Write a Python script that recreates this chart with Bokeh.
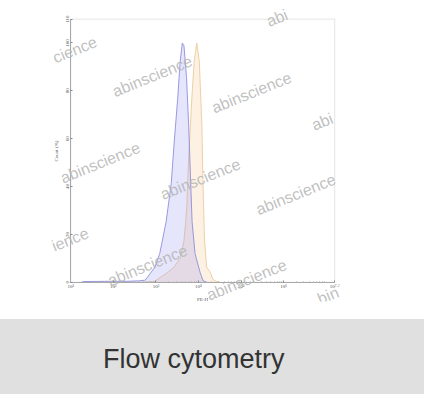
from bokeh.plotting import figure
from bokeh.models import (FixedTicker, CustomJSTickFormatter, Label, Range1d, Div,
                          BoxAnnotation)
from bokeh.layouts import column
from bokeh.embed import file_html
from bokeh.resources import INLINE

# ---- data (log10 of PE-H intensity, % of max count) ----
blue_log10 = [1.25, 1.3, 1.8, 2.3, 2.6, 2.75, 2.98, 3.09, 3.24, 3.36, 3.43, 3.51, 3.57, 3.62,
              3.66, 3.72, 3.77, 3.81, 3.85, 3.92, 4.04, 4.11, 4.2]
blue_pct = [0.0, 0.3, 0.4, 0.4, 0.6, 0.9, 6.4, 12.0, 25.3, 41.3, 58.6, 76.3, 92.3, 100.0,
            98.8, 85.5, 65.4, 45.4, 25.3, 12.0, 4.0, 0.6, 0.0]
orange_log10 = [2.6, 2.86, 2.98, 3.13, 3.27, 3.43, 3.58, 3.66, 3.70, 3.73, 3.77, 3.85, 3.90,
                3.96, 4.02, 4.08, 4.11, 4.14, 4.19, 4.27, 4.34, 4.41, 4.5]
orange_pct = [0.0, 0.2, 0.4, 2.4, 4.0, 6.4, 10.4, 17.3, 25.3, 33.3, 52.2, 78.7, 92.3,
              100.0, 92.3, 65.4, 38.5, 18.5, 6.4, 4.4, 1.2, 0.4, 0.0]
x_tick_exponents = [1, 2, 3, 4, 5, 6, 7.2]
y_ticks = [0, 20, 40, 60, 80, 100, 110]
x_label = "PE-H"
y_label = "Count (%)"
caption = "Flow cytometry"
watermark = "abinscience"

X_MIN_EXP, X_MAX_EXP = 1, 7.2
Y_MAX = 110

# reference layout (px): plot box 73..347 x 19..293, picture area 53..352 x 8..313
PX_PER_DEC = 274.0 / (X_MAX_EXP - X_MIN_EXP)
PX_PER_PCT = 274.0 / Y_MAX


def fx(px):
    return 10 ** (X_MIN_EXP + (px - 73) / PX_PER_DEC)


def fy(py):
    return (293 - py) / PX_PER_PCT


W, H = 424, 394          # page area inside the 8px margin
TOP_H = 319              # chart card height, caption band below

p = figure(width=W, height=TOP_H, x_axis_type="log",
           x_range=Range1d(fx(53), fx(352)), y_range=Range1d(fy(313), fy(8)),
           output_backend="svg", toolbar_location=None,
           min_border_left=51, min_border_right=85, min_border_top=8, min_border_bottom=18)
p.grid.visible = False
p.background_fill_color = "white"
p.border_fill_color = "white"
p.outline_line_color = None

bx = [10 ** v for v in blue_log10]
ox = [10 ** v for v in orange_log10]
p.varea(x=ox, y1=[0] * len(ox), y2=orange_pct, fill_color="#f5c78a", fill_alpha=0.25)
p.line(ox, orange_pct, line_color="#eccb9c", line_width=1, line_alpha=0.9)
p.varea(x=bx, y1=[0] * len(bx), y2=blue_pct, fill_color="#9999ee", fill_alpha=0.25)
p.line(bx, blue_pct, line_color="#8a8adc", line_width=1, line_alpha=0.85)

# plot box (top/right edges; left/bottom are the axes)
p.add_layout(BoxAnnotation(left=10 ** X_MIN_EXP, right=10 ** X_MAX_EXP, bottom=0, top=Y_MAX,
                           fill_alpha=0, line_color="#a8a8a8", line_width=1, level="underlay"))

minor = [m * 10 ** k for k in range(1, 8) for m in range(2, 10) if m * 10 ** k < 10 ** X_MAX_EXP]
p.xaxis.ticker = FixedTicker(ticks=[10 ** e for e in x_tick_exponents], minor_ticks=minor)
p.xaxis.formatter = CustomJSTickFormatter(code="""
const e = Math.round(Math.log10(tick) * 10) / 10;
const sup = {'0':'\u2070','1':'\u00b9','2':'\u00b2','3':'\u00b3','4':'\u2074','5':'\u2075',
             '6':'\u2076','7':'\u2077','8':'\u2078','9':'\u2079','.':'\u00b7','-':'\u207b'};
return '10' + String(e).split('').map(c => sup[c]).join('');
""")
p.yaxis.ticker = FixedTicker(ticks=y_ticks, minor_ticks=[])
p.yaxis.major_label_orientation = "vertical"
p.xaxis.fixed_location = 0
p.yaxis.fixed_location = 10 ** X_MIN_EXP
p.xaxis.bounds = (10 ** X_MIN_EXP, 10 ** X_MAX_EXP)
p.yaxis.bounds = (0, Y_MAX)

for ax in (p.xaxis, p.yaxis):
    ax.axis_line_color = "#a8a8a8"
    ax.major_tick_line_color = "#888888"
    ax.minor_tick_line_color = "#aaaaaa"
    ax.major_tick_in = 2
    ax.major_tick_out = 0
    ax.minor_tick_in = 1
    ax.minor_tick_out = 0
    ax.major_label_text_font = "Liberation Serif"
    ax.major_label_text_font_size = "5px"
    ax.major_label_text_color = "#555555"
    ax.axis_label_text_font = "Liberation Serif"
    ax.axis_label_text_font_size = "5px"
    ax.axis_label_text_font_style = "normal"
    ax.axis_label_text_color = "#555555"
    ax.major_label_standoff = 2
    ax.axis_label_standoff = 4
p.xaxis.axis_label = x_label
p.yaxis.axis_label = y_label

# watermark (reference pixel positions of each text's start, mapped onto the frame)
marks = [
    (277, 22, "abi"),
    (55, 60, "cience"), (117, 95, watermark), (220, 112, watermark), (324, 130, "abi"),
    (63, 185, watermark), (266, 218, watermark), (167, 202, watermark),
    (54, 256, "ience"), (112, 292, watermark), (215, 307, watermark), (330, 311, "bin"),
]
for mx, my, t in marks:
    p.add_layout(Label(x=fx(mx), y=fy(my), text=t, angle=22, angle_units="deg",
                       text_font="Liberation Sans", text_font_size="16px",
                       text_color="#b4b4b4", text_alpha=0.85,
                       text_align="left", text_baseline="alphabetic"))

band = Div(width=W, height=H - TOP_H,
           styles={"background-color": "#dfe0df", "overflow": "hidden",
                   "margin": "0", "padding": "0"},
           text=('<div style="margin:0;padding:27px 0 0 103px;font-family:\'Liberation Sans\';'
                 'font-size:27px;line-height:27px;color:#333333;white-space:nowrap">'
                 + caption + '</div>'))

layout = column(p, band, spacing=0)
open("out.html", "w").write(file_html(layout, INLINE))
